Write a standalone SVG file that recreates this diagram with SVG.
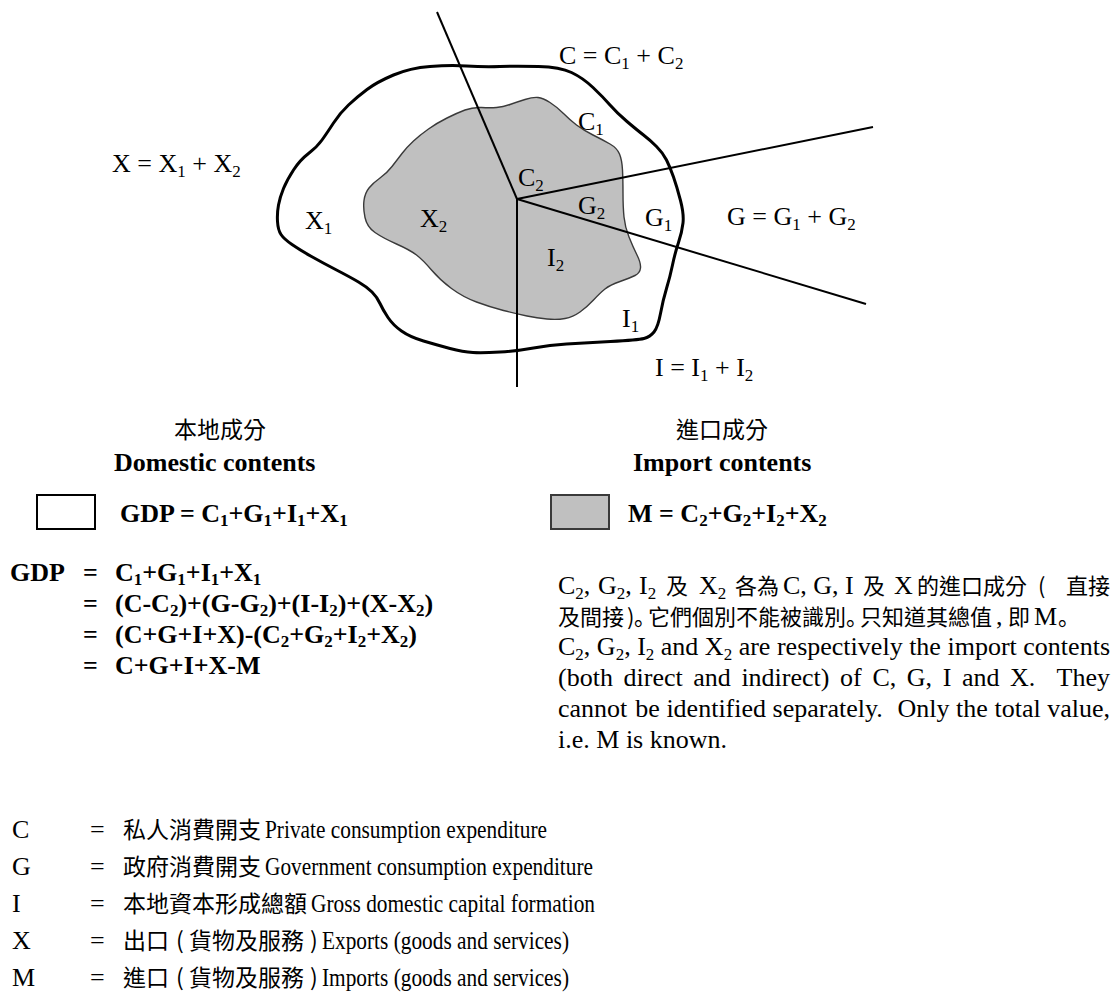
<svg xmlns="http://www.w3.org/2000/svg" width="1114" height="994" viewBox="0 0 1114 994">
<style>
.t{font-family:"Liberation Serif","Noto Sans CJK TC",serif;font-size:26px;fill:#000}
.b{font-weight:bold}
.s{font-size:17px}
.k{font-family:"Noto Sans CJK TC",sans-serif;font-size:23px;fill:#000}
.kq{font-family:"Noto Sans CJK TC",sans-serif;font-size:22px;fill:#000}
.kp{font-family:"Noto Sans CJK JP",sans-serif;font-size:22px;fill:#000;font-feature-settings:"halt"}
.ln{stroke:#000;stroke-width:2;fill:none}
</style>
<rect width="1114" height="994" fill="#fff"/>
<g id="outer">
<path d="M367,89.5 Q377,82 393.5,75 Q410,68 430,66.5 Q450,65 466.5,66 Q483,67 500,66.5 Q517,66 538.5,66.5 Q560,67 571.5,72.5 Q583,78 593,87.5 Q603,97 610,105 Q617,113 627,121.5 Q637,130 643.5,135 Q650,140 656.5,146.5 Q663,153 666.5,160 Q670,167 673.5,177 Q677,187 680.5,200.5 Q684,214 683,223 Q682,232 678.5,242.5 Q675,253 672.5,265 Q670,277 666.5,288.5 Q663,300 660.5,313.5 Q658,327 654,332 Q650,337 644,338.5 Q638,340 610.5,341.5 Q583,343 566.5,344 Q550,345 533.5,348 Q517,351 500,352 Q483,353 473,352.5 Q463,352 450,348.5 Q437,345 423.5,341 Q410,337 401.5,331 Q393,325 388,317.5 Q383,310 380,303.5 Q377,297 372,292 Q367,287 358.5,282 Q350,277 336.5,270 Q323,263 311.5,256.5 Q300,250 292,244.5 Q284,239 281,234.5 Q278,230 277.5,221.5 Q277,213 278.5,205 Q280,197 283.5,188.5 Q287,180 293.5,170 Q300,160 308.5,153.5 Q317,147 322,140 Q327,133 333.5,123 Q340,113 348.5,105 Q357,97 367,89.5 Z" fill="#fff" stroke="#000" stroke-width="3"/>
</g>
<g id="inner">
<path d="M365,217.5 Q363,208 364,200.5 Q365,193 369,188 Q373,183 380,178 Q387,173 392,166.5 Q397,160 402,153.5 Q407,147 413.5,141 Q420,135 428.5,129 Q437,123 447,118 Q457,113 465,110 Q473,107 481.5,107.5 Q490,108 496.5,107.5 Q503,107 510,104.5 Q517,102 525,99.5 Q533,97 538,97.5 Q543,98 550,102.5 Q557,107 563.5,113.5 Q570,120 576.5,125 Q583,130 593,135 Q603,140 610,144 Q617,148 619.5,154 Q622,160 622.5,170 Q623,180 623,193.5 Q623,207 624,217 Q625,227 629,237 Q633,247 637,255 Q641,263 640.5,268 Q640,273 635,275.5 Q630,278 620,281.5 Q610,285 605,289 Q600,293 593.5,300 Q587,307 580,312 Q573,317 565,318.5 Q557,320 547,319 Q537,318 527,316 Q517,314 503.5,310.5 Q490,307 476.5,302 Q463,297 451.5,288.5 Q440,280 431.5,270 Q423,260 416.5,255 Q410,250 396.5,244 Q383,238 375,232.5 Q367,227 365,217.5 Z" fill="#c0c0c0" stroke="#3a3a3a" stroke-width="1.4"/>
</g>
<g id="connectors">
<line class="ln" x1="437" y1="12" x2="517" y2="199"/>
<line class="ln" x1="517" y1="199" x2="517" y2="387"/>
<line class="ln" x1="517" y1="199" x2="873" y2="127"/>
<line class="ln" x1="517" y1="199" x2="866" y2="304"/>
</g>
<g id="labels">
<text class="t" x="559" y="64">C = C<tspan class="s" dy="5">1</tspan><tspan dy="-5"> + C</tspan><tspan class="s" dy="5">2</tspan></text>
<text class="t" x="578" y="130">C<tspan class="s" dy="5">1</tspan></text>
<text class="t" x="518" y="186">C<tspan class="s" dy="5">2</tspan></text>
<text class="t" x="578" y="214">G<tspan class="s" dy="5">2</tspan></text>
<text class="t" x="645" y="226">G<tspan class="s" dy="5">1</tspan></text>
<text class="t" x="305" y="229">X<tspan class="s" dy="5">1</tspan></text>
<text class="t" x="420" y="227">X<tspan class="s" dy="5">2</tspan></text>
<text class="t" x="547" y="266">I<tspan class="s" dy="5">2</tspan></text>
<text class="t" x="622" y="327">I<tspan class="s" dy="5">1</tspan></text>
<text class="t" x="727" y="225">G = G<tspan class="s" dy="5">1</tspan><tspan dy="-5"> + G</tspan><tspan class="s" dy="5">2</tspan></text>
<text class="t" x="655" y="376">I = I<tspan class="s" dy="5">1</tspan><tspan dy="-5"> + I</tspan><tspan class="s" dy="5">2</tspan></text>
<text class="t" x="112" y="172">X = X<tspan class="s" dy="5">1</tspan><tspan dy="-5"> + X</tspan><tspan class="s" dy="5">2</tspan></text>
</g>
<g id="legend-domestic">
<text class="k" x="220" y="438" text-anchor="middle">本地成分</text>
<text class="t b" x="114" y="471">Domestic contents</text>
<rect x="37" y="495" width="58" height="34" fill="#fff" stroke="#000" stroke-width="2"/>
<text class="t b" x="120" y="522">GDP = C<tspan class="s" dy="4">1</tspan><tspan dy="-4">+G</tspan><tspan class="s" dy="4">1</tspan><tspan dy="-4">+I</tspan><tspan class="s" dy="4">1</tspan><tspan dy="-4">+X</tspan><tspan class="s" dy="4">1</tspan></text>
</g>
<g id="legend-import">
<text class="k" x="722" y="438" text-anchor="middle">進口成分</text>
<text class="t b" x="633" y="471">Import contents</text>
<rect x="551" y="495" width="58" height="34" fill="#c0c0c0" stroke="#3a3a3a" stroke-width="2"/>
<text class="t b" x="628" y="522">M = C<tspan class="s" dy="4">2</tspan><tspan dy="-4">+G</tspan><tspan class="s" dy="4">2</tspan><tspan dy="-4">+I</tspan><tspan class="s" dy="4">2</tspan><tspan dy="-4">+X</tspan><tspan class="s" dy="4">2</tspan></text>
</g>
<g id="gdp-derivation">
<text class="t b" x="10" y="581">GDP</text>
<text class="t b" x="83" y="581">=</text>
<text class="t b" x="115" y="581">C<tspan class="s" dy="4">1</tspan><tspan dy="-4">+G</tspan><tspan class="s" dy="4">1</tspan><tspan dy="-4">+I</tspan><tspan class="s" dy="4">1</tspan><tspan dy="-4">+X</tspan><tspan class="s" dy="4">1</tspan></text>
<text class="t b" x="83" y="612">=</text>
<text class="t b" x="115" y="612">(C-C<tspan class="s" dy="4">2</tspan><tspan dy="-4">)+(G-G</tspan><tspan class="s" dy="4">2</tspan><tspan dy="-4">)+(I-I</tspan><tspan class="s" dy="4">2</tspan><tspan dy="-4">)+(X-X</tspan><tspan class="s" dy="4">2</tspan><tspan dy="-4">)</tspan></text>
<text class="t b" x="83" y="643">=</text>
<text class="t b" x="115" y="643">(C+G+I+X)-(C<tspan class="s" dy="4">2</tspan><tspan dy="-4">+G</tspan><tspan class="s" dy="4">2</tspan><tspan dy="-4">+I</tspan><tspan class="s" dy="4">2</tspan><tspan dy="-4">+X</tspan><tspan class="s" dy="4">2</tspan><tspan dy="-4">)</tspan></text>
<text class="t b" x="83" y="674">=</text>
<text class="t b" x="115" y="674">C+G+I+X-M</text>
</g>
<g id="explanation">
<text class="t" x="558" y="594">C<tspan class="s" dy="5">2</tspan><tspan dy="-5">,</tspan></text>
<text class="t" x="598" y="594">G<tspan class="s" dy="5">2</tspan><tspan dy="-5">,</tspan></text>
<text class="t" x="639" y="594">I<tspan class="s" dy="5">2</tspan></text>
<text class="kq" x="666" y="594">及</text>
<text class="t" x="699" y="594">X<tspan class="s" dy="5">2</tspan></text>
<text class="kq" x="735" y="594">各為</text>
<text class="t" x="783" y="594">C, G, I</text>
<text class="kq" x="863" y="594">及</text>
<text class="t" x="894" y="594">X</text>
<text class="kq" x="917" y="594">的進口成分</text>
<text class="kq" x="1038" y="594">(</text>
<text class="kq" x="1066" y="594">直接</text>
<text class="kq" x="558" y="625">及間接</text>
<text class="kq" x="627" y="625">)</text>
<text class="kp" x="634" y="625">。</text>
<text class="kq" x="648" y="625">它們個別不能被識別</text>
<text class="kp" x="846" y="625">。</text>
<text class="kq" x="860" y="625">只知道其總值</text>
<text class="t" x="996" y="625">,</text>
<text class="kq" x="1008" y="625">即</text>
<text class="t" x="1034" y="625">M</text>
<text class="kp" x="1058" y="625">。</text>
<text class="t" x="558" y="655" textLength="552" lengthAdjust="spacing">C<tspan class="s" dy="5">2</tspan><tspan dy="-5">, G</tspan><tspan class="s" dy="5">2</tspan><tspan dy="-5">, I</tspan><tspan class="s" dy="5">2</tspan><tspan dy="-5"> and X</tspan><tspan class="s" dy="5">2</tspan><tspan dy="-5"> are respectively the import contents</tspan></text>
<text class="t" y="686"><tspan x="558">(both</tspan><tspan x="623.5">direct</tspan><tspan x="693.3">and</tspan><tspan x="741.4">indirect)</tspan><tspan x="840.1">of</tspan><tspan x="872.4">C,</tspan><tspan x="906.8">G,</tspan><tspan x="942.7">I</tspan><tspan x="962">and</tspan><tspan x="1010.1">X.</tspan><tspan x="1056.6">They</tspan></text>
<text class="t" y="717"><tspan x="558">cannot</tspan><tspan x="635.3">be</tspan><tspan x="666.4">identified</tspan><tspan x="772.6">separately.</tspan><tspan x="897.6">Only</tspan><tspan x="956.1">the</tspan><tspan x="994.5">total</tspan><tspan x="1047.2">value,</tspan></text>
<text class="t" x="558" y="748">i.e. M is known.</text>
</g>
<g id="definitions">
<text class="t" x="12" y="838">C</text>
<text class="t" x="90" y="838">=</text>
<text class="k" x="123" y="838">私人消費開支</text>
<text class="t" x="265" y="838" textLength="282" lengthAdjust="spacingAndGlyphs">Private consumption expenditure</text>
<text class="t" x="12" y="875">G</text>
<text class="t" x="90" y="875">=</text>
<text class="k" x="123" y="875">政府消費開支</text>
<text class="t" x="265" y="875" textLength="328" lengthAdjust="spacingAndGlyphs">Government consumption expenditure</text>
<text class="t" x="12" y="912">I</text>
<text class="t" x="90" y="912">=</text>
<text class="k" x="123" y="912">本地資本形成總額</text>
<text class="t" x="311" y="912" textLength="284" lengthAdjust="spacingAndGlyphs">Gross domestic capital formation</text>
<text class="t" x="12" y="949">X</text>
<text class="t" x="90" y="949">=</text>
<text class="k" x="123" y="949">出口</text>
<text class="k" x="176" y="949">(</text>
<text class="k" x="189" y="949">貨物及服務</text>
<text class="k" x="310" y="949">)</text>
<text class="t" x="322" y="949" textLength="247" lengthAdjust="spacingAndGlyphs">Exports (goods and services)</text>
<text class="t" x="12" y="986">M</text>
<text class="t" x="90" y="986">=</text>
<text class="k" x="123" y="986">進口</text>
<text class="k" x="176" y="986">(</text>
<text class="k" x="189" y="986">貨物及服務</text>
<text class="k" x="310" y="986">)</text>
<text class="t" x="322" y="986" textLength="247" lengthAdjust="spacingAndGlyphs">Imports (goods and services)</text>
</g>
</svg>
